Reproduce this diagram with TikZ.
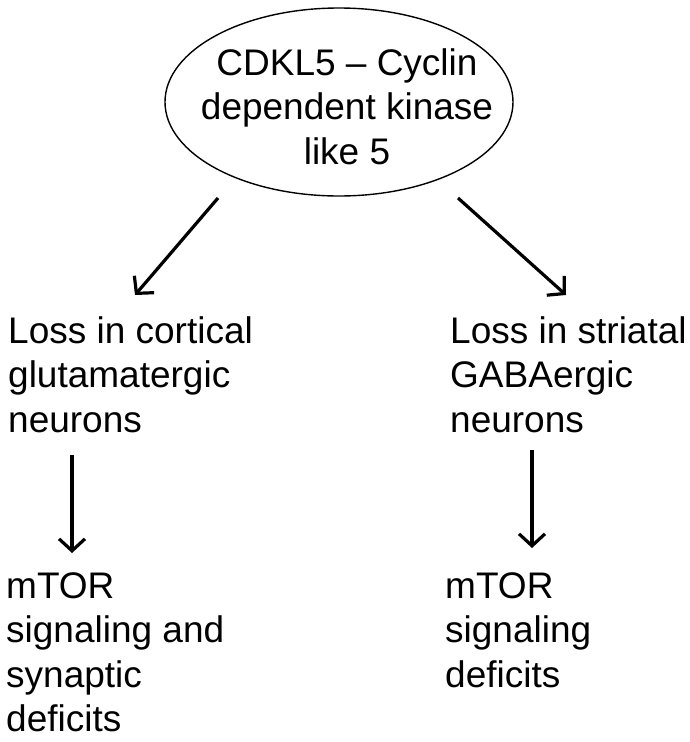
\documentclass[tikz,border=0pt]{standalone}
\usepackage{fontspec}
\setmainfont{Liberation Sans}
\usetikzlibrary{shapes,arrows.meta}

\begin{document}
\begin{tikzpicture}[x=1pt,y=-1pt]
\tikzset{
	txt/.style={anchor=north west, inner sep=0pt, align=left,
		font=\fontsize{37}{44.5}\selectfont},
	arr/.style={line width=3.2pt, -{Straight Barb[length=12pt,width=26pt,line width=3.2pt]}}
}
\useasboundingbox (0,0) rectangle (689,742);

\node[draw, ellipse, line width=1.4pt, minimum width=348pt, minimum height=188pt, inner sep=0pt] (CDKL) at (339,102) {};
\node[inner sep=0pt, align=center, font=\fontsize{37}{44.5}\selectfont] (CDKLtext) at (347,106.5)
	{CDKL5 -- Cyclin\\dependent kinase\\like 5};

\node[txt] (Cortical) at (8,316.4) {Loss in cortical\\glutamatergic\\neurons};
\node[txt] (Striatal) at (450,316.4) {Loss in striatal\\GABAergic\\neurons};
\node[txt] (mTORL) at (6,572.4) {mTOR\\signaling and\\synaptic\\deficits};
\node[txt] (mTORR) at (445,572.4) {mTOR\\signaling\\deficits};

% arrow ends
\coordinate (l1) at (218,198);
\coordinate (l2) at (135,295);
\coordinate (r1) at (458,198);
\coordinate (r2) at (566,295);
\coordinate (cl1) at (72,455);
\coordinate (cl2) at (72,553);
\coordinate (cr1) at (532,450);
\coordinate (cr2) at (532,548);

\draw[arr] (l1) -- (l2);
\draw[arr] (r1) -- (r2);
\draw[arr] (cl1) -- (cl2);
\draw[arr] (cr1) -- (cr2);
\end{tikzpicture}
\end{document}
